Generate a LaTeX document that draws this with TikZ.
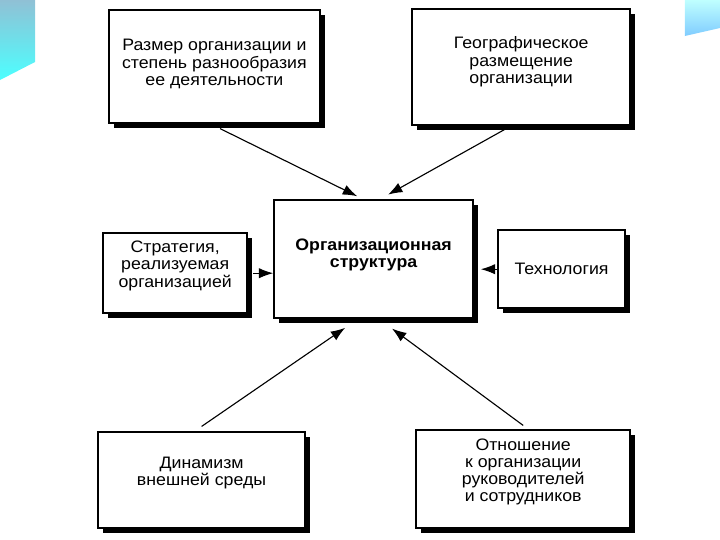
\documentclass[tikz,border=0pt]{standalone}
\usepackage{fontspec}
\setmainfont{Liberation Sans}[FakeStretch=1.07]
\usepackage{tikz}
\usetikzlibrary{arrows.meta,positioning,calc,shadows}

\begin{document}
\begin{tikzpicture}[>={Latex[length=0.36cm,width=0.26cm]}]
        \tikzset{factor/.style={rectangle, draw, line width=1.1pt, fill=white, align=center,
            font=\fontsize{11.8}{12.3}\selectfont,
            drop shadow={shadow xshift=0.13cm, shadow yshift=-0.13cm, fill=black, opacity=1}}}
        \tikzset{lift/.style={text depth=#1}, lift/.default=0.45cm}
        \tikzset{link/.style={->, line width=0.8pt}}
        \useasboundingbox (0,0) rectangle (18,-13.5);
        % slide corners
        \shade[top color=blue!30!cyan!45!gray!60, bottom color=cyan!70] (0,0) -- (0.875,0) -- (0.875,-1.55) -- (0,-2.0) -- cycle;
        \shade[top color=cyan!25, bottom color=cyan!60!blue!50] (17.12,0) -- (18,0) -- (18,-0.7) -- (17.12,-0.9) -- cycle;
        % boxes
        \node[factor, lift=0.2cm, minimum width=5.28cm, minimum height=2.83cm] (size) at (5.36,-1.66) {Размер организации и\\степень разнообразия\\ее деятельности};
        \node[factor, lift=0.35cm, minimum width=5.45cm, minimum height=2.9cm] (geo) at (13.03,-1.68) {Географическое\\размещение\\организации};
        \node[factor, lift=0.3cm, minimum width=4.98cm, minimum height=2.95cm, font=\fontsize{11.8}{12.3}\selectfont\bfseries] (orgs) at (9.34,-6.48) {Организационная\\структура};
        \node[factor, lift, minimum width=3.6cm, minimum height=2.0cm] (strat) at (4.38,-6.83) {Стратегия,\\реализуемая\\организацией};
        \node[factor, minimum width=3.18cm, minimum height=1.95cm] (tech) at (14.04,-6.73) {Технология};
        \node[factor, lift, minimum width=5.18cm, minimum height=2.4cm] (env) at (5.04,-12.0) {Динамизм\\внешней среды};
        \node[factor, lift, minimum width=5.35cm, minimum height=2.45cm] (staff) at (13.08,-11.98) {Отношение\\к организации\\руководителей\\и сотрудников};
        % arrows
        \draw[link] ([xshift=0.14cm, yshift=-0.12cm]size.south) -- ([xshift=-0.41cm, yshift=0.08cm]orgs.north);
        \draw[link] ([xshift=-0.4cm, yshift=-0.08cm]geo.south) -- ([xshift=0.36cm, yshift=0.12cm]orgs.north);
        \draw[link] ([xshift=0.13cm]strat.east) -- (strat.east -| orgs.west);
        \draw[link] (tech.west) -- ([xshift=0.17cm]tech.west -| orgs.east);
        \draw[link] ([yshift=0.12cm]env.north) -- ([xshift=-0.71cm, yshift=-0.22cm]orgs.south);
        \draw[link] ([yshift=0.1cm]staff.north) -- ([xshift=0.46cm, yshift=-0.24cm]orgs.south);
    \end{tikzpicture}
\end{document}
